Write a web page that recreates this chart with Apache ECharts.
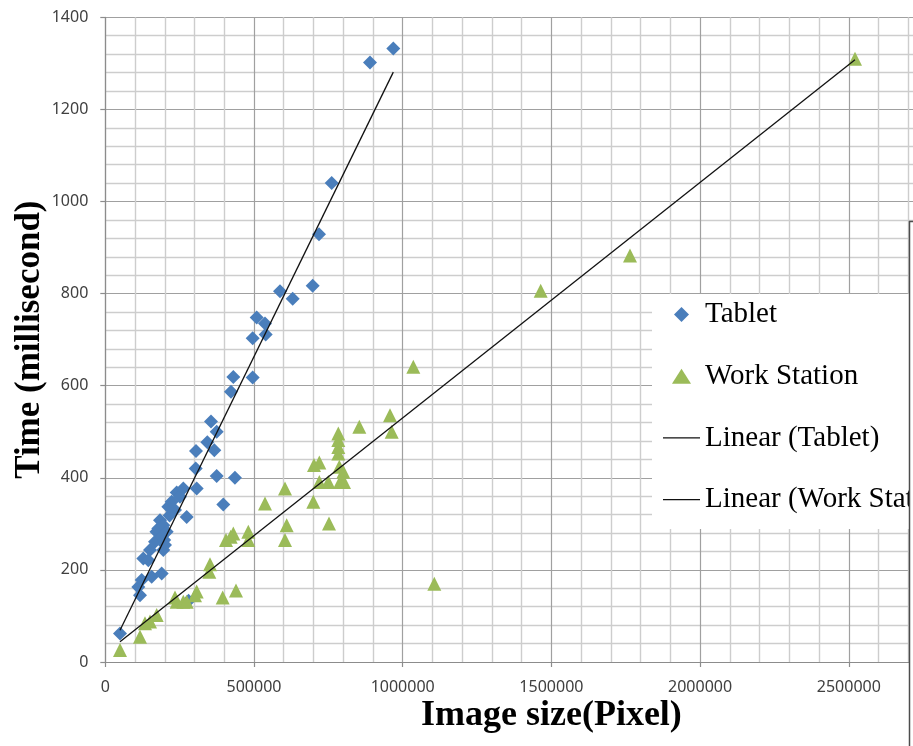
<!DOCTYPE html>
<html>
<head>
<meta charset="utf-8">
<script src="https://cdn.jsdelivr.net/npm/echarts@6/dist/echarts.min.js"></script>
<style>
  html, body { margin: 0; padding: 0; background: #fff; overflow: hidden; width: 913px; height: 746px; }
  #chart { width: 1000px; height: 746px; }
</style>
</head>
<body>
<div id="chart"></div>
<script>
// ---- data ----
const tabletX = [49400,111000,116700,122400,127800,144600,150300,156000,167100,172000,178200,184000,189600,189600,195000,195000,198000,200700,206400,211800,216000,223200,234400,240000,251200,262300,273700,280000,304000,305000,307300,343000,355400,366500,374500,374500,396800,436000,422700,430400,495600,495600,509000,537000,539300,587400,630000,697300,718600,761200,890000,968400];
const tabletY = [62,163,145,178,225,221,243,185,261,283,290,308,192,272,297,243,265,254,283,337,318,348,330,368,359,377,315,133,420,458,377,477,522,460,500,404,342,400,587,619,618,703,748,735,711,805,789,817,929,1040,1302,1332];

const wsX = [49400,116700,133500,150300,172800,234400,240000,262300,273700,301600,307300,349700,352000,394700,439500,405800,421600,430400,480800,480800,537000,604200,609900,604200,699400,701800,719600,719600,749900,752200,783500,783500,783500,783500,786800,800300,789200,802600,854100,957300,963000,1035700,1106300,1464000,1764300,2520800];
const wsY = [26,55,84,88,102,140,131,131,131,145,153,196,212,140,155,265,272,279,283,265,344,377,297,265,348,428,433,391,391,301,496,482,467,453,424,413,391,391,511,536,500,641,170,806,883,1310];

// trendline end points
const tabletTrendX = [49400, 968400];
const tabletTrendY = [69, 1281];
const wsTrendX = [49400, 2520800];
const wsTrendY = [44, 1308];

const seriesNames = ['Tablet', 'Work Station', 'Linear (Tablet)', 'Linear (Work Station)'];
const xAxisTitle = 'Image size(Pixel)';
const yAxisTitle = 'Time (millisecond)';
const xMin = 0, xMax = 3000000, xStep = 500000;
const yMin = 0, yMax = 1400, yStep = 200;

const zip = (xs, ys) => xs.map((x, i) => [x, ys[i]]);

const chart = echarts.init(document.getElementById('chart'), null, { renderer: 'canvas' });

const labelFont = { fontFamily: 'Noto Sans', fontSize: 16, color: '#404040' };
const xTitleFont = { fontFamily: 'Liberation Serif', fontSize: 36, fontWeight: 'bold', color: '#000' };
const yTitleFont = { fontFamily: 'Liberation Serif', fontSize: 35, fontWeight: 'bold', color: '#000' };

const diamondIcon = 'path://M7,0 L14,7 L7,14 L0,7 Z';
const triangleIcon = 'path://M7,0 L14,11 L0,11 Z';
const lineIcon = 'path://M0,0 L37,0 L37,1.4 L0,1.4 Z';

chart.setOption({
  animation: false,
  backgroundColor: '#fff',
  grid: { left: 105.3, top: 17.3, width: 892.2, height: 644.7, containLabel: false, outerBoundsMode: 'none' },
  xAxis: {
    type: 'value', min: xMin, max: xMax, interval: xStep,
    name: xAxisTitle, nameLocation: 'middle', nameGap: 36, nameMoveOverlap: false,
    nameTextStyle: xTitleFont,
    axisLine: { show: true, lineStyle: { color: '#8c8c8c', width: 1.2 } },
    axisTick: { show: true, inside: false, length: 5, lineStyle: { color: '#8c8c8c', width: 1.2 } },
    axisLabel: Object.assign({ margin: 17, formatter: v => String(v) }, labelFont),
    splitLine: { show: true, lineStyle: { color: '#a0a0a0', width: 1.2 } },
    minorTick: { show: false, splitNumber: 5 },
    minorSplitLine: { show: true, lineStyle: { color: '#cdcdcd', width: 1.4 } }
  },
  yAxis: {
    type: 'value', min: yMin, max: yMax, interval: yStep,
    name: yAxisTitle, nameLocation: 'middle', nameGap: 58, nameRotate: 90, nameMoveOverlap: false,
    nameTextStyle: yTitleFont,
    axisLine: { show: true, lineStyle: { color: '#8c8c8c', width: 1.2 } },
    axisTick: { show: true, inside: false, length: 5, lineStyle: { color: '#8c8c8c', width: 1.2 } },
    axisLabel: Object.assign({ margin: 17, formatter: v => String(v) }, labelFont),
    splitLine: { show: true, lineStyle: { color: '#a0a0a0', width: 1.2 } },
    minorTick: { show: false, splitNumber: 5 },
    minorSplitLine: { show: true, lineStyle: { color: '#cdcdcd', width: 1.4 } }
  },
  legend: {
    orient: 'vertical',
    left: 652, top: 294,
    padding: [6, 10, 15, 11],
    backgroundColor: '#ffffff',
    itemWidth: 37, itemHeight: 15, itemGap: 32.7,
    symbolKeepAspect: true,
    textStyle: { fontFamily: 'Liberation Serif', fontSize: 29, color: '#000', lineHeight: 29 },
    data: [
      { name: seriesNames[0], icon: diamondIcon },
      { name: seriesNames[1], icon: triangleIcon },
      { name: seriesNames[2], icon: lineIcon },
      { name: seriesNames[3], icon: lineIcon }
    ]
  },
  series: [
    {
      name: seriesNames[0], type: 'scatter', symbol: 'diamond', symbolSize: 14,
      itemStyle: { color: '#4a7ebb', opacity: 1 },
      data: zip(tabletX, tabletY), z: 3
    },
    {
      name: seriesNames[1], type: 'scatter', symbol: 'triangle', symbolSize: 14,
      itemStyle: { color: '#9bbb59', opacity: 1 },
      data: zip(wsX, wsY), z: 3
    },
    {
      name: seriesNames[2], type: 'line', symbol: 'none', showSymbol: false,
      lineStyle: { color: '#111', width: 1.3 }, itemStyle: { color: '#111' },
      data: zip(tabletTrendX, tabletTrendY), z: 4
    },
    {
      name: seriesNames[3], type: 'line', symbol: 'none', showSymbol: false,
      lineStyle: { color: '#111', width: 1.3 }, itemStyle: { color: '#111' },
      data: zip(wsTrendX, wsTrendY), z: 4
    }
  ],
  graphic: [{
    type: 'rect', z: 100,
    shape: { x: 909.5, y: 221.5, width: 200, height: 600 },
    style: { fill: '#ffffff', stroke: '#4d4d4d', lineWidth: 1.5 }
  }]
});
</script>
</body>
</html>
